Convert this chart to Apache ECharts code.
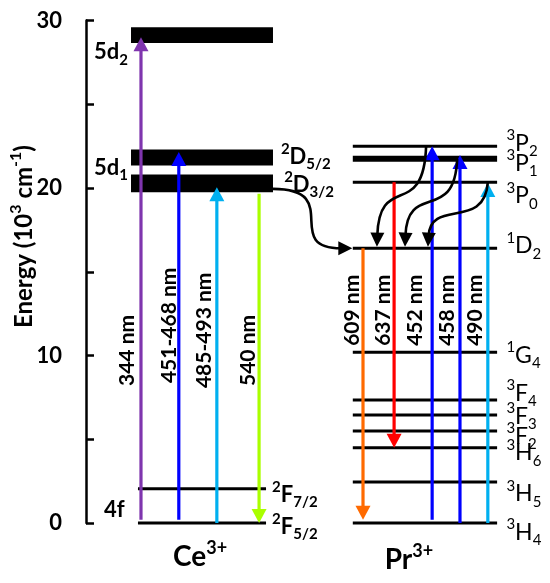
<!DOCTYPE html>
<html>
<head>
<meta charset="utf-8">
<script src="https://cdn.jsdelivr.net/npm/echarts@6/dist/echarts.min.js"></script>
<style>
  html, body { margin: 0; background: #fff; }
  #chart { width: 550px; height: 583px; }
</style>
</head>
<body>
<div id="chart"></div>
<script>
// energies in 10^3 cm^-1
const yTicks = [0, 10, 20, 30];

const ceBandNames = ['5d2', '2D5/2', '2D3/2'];
const ceBandLow = [28.65, 21.35, 19.75];
const ceBandHigh = [29.6, 22.3, 20.8];

const ceLevelNames = ['2F5/2', '2F7/2'];
const ceLevelEnergy = [0, 2.05];

const prLevelNames = ['3H4', '3H5', '3H6', '3F2', '3F3', '3F4', '1G4', '1D2', '3P0', '3P1', '3P2'];
const prLevelEnergy = [0, 2.45, 4.5, 5.5, 6.45, 7.35, 10.2, 16.4, 20.35, 21.75, 22.5];

const ceLines = ['344 nm', '451-468 nm', '485-493 nm', '540 nm'];
const ceFrom = [0.2, 0.2, 0, 19.65];
const ceTo = [29.0, 22.15, 20.05, 0];

const prLines = ['609 nm', '637 nm', '452 nm', '458 nm', '490 nm'];
const prFrom = [16.4, 20.35, 0.2, 0, 0];
const prTo = [0.2, 4.5, 22.5, 21.97, 20.3];

// non-radiative relaxation 3P2, 3P1, 3P0 -> 1D2
const relaxFrom = [22.5, 21.75, 20.35];
const relaxTo = [16.5, 16.5, 16.5];
// energy transfer Ce 2D3/2 -> Pr 1D2
const transferFrom = [19.95];
const transferTo = [16.4];

// layout (x axis runs 0..100 across the plot)
const ceSpan = [9.7, 40.3];
const ceLineSpan = [11.2, 38.8];
const prSpan = [57.5, 88.6];
const ceArrowX = [11.85, 20, 28.2, 37.3];
const prArrowX = [59.7, 66.4, 74.6, 80.6, 86.6];
const relaxStartX = [73.3, 80.0, 86.6];
const relaxEndX = [62.7, 68.75, 73.7];
const transferX = [40.3, 57.4];

const ceColors = ['#7F35AE', '#0000FF', '#00B0F0', '#AAFF00'];
const prColors = ['#FF6A00', '#FF0000', '#0000FF', '#0000FF', '#00B0F0'];

const FONT = 'Lato, "Liberation Sans", sans-serif';

function richStyle(size, weight, small) {
  small = small || Math.round(size * 0.66);
  const base = { fontFamily: FONT, fontWeight: weight, fill: '#000' };
  return {
    m: Object.assign({ fontSize: size, lineHeight: size + 8 }, base),
    sup: Object.assign({ fontSize: small, lineHeight: small + 1, verticalAlign: 'top' }, base),
    sub: Object.assign({ fontSize: small, lineHeight: small + 1, verticalAlign: 'bottom' }, base)
  };
}

function termText(name) {
  const m = name.match(/^(\d)([A-Z])(.*)$/);
  if (m) return '{sup|' + m[1] + '}{m|' + m[2] + '}{sub|' + m[3] + '}';
  const d = name.match(/^(\d[a-z])(\d*)$/);
  if (d) return '{m|' + d[1] + '}' + (d[2] ? '{sub|' + d[2] + '}' : '');
  return '{m|' + name + '}';
}

// label placement
const prLabelX = 90.6;
const prLabelY = [-0.57, 1.73, 4.18, 5.16, 6.36, 7.73, 10.0, 16.54, 19.52, 21.46, 22.66];
const ceLabelX = [42, 42.7];
const ceBandLabelY = [21.85, 20.18];
const ceLevelLabelX = 40.1;
const ceLevelLabelY = [-0.24, 1.67];
const ceLineLabelX = [8.8, 17.9, 25.4, 34.9];
const ceLineLabelY = [10.3, 11.8, 11.5, 10.3];
const prLineLabelX = [57.3, 64.1, 71, 77.9, 83.9];
const prLineLabelY = 12.7;

const labels = [];
prLevelNames.forEach((n, i) => labels.push({ x: prLabelX, y: prLabelY[i], text: termText(n), align: 'left', rich: richStyle(23, 'normal', 15) }));
labels.push({ x: 1.7, y: 28.1, text: termText('5d2'), align: 'left', rich: richStyle(22, 'bold', 15) });
labels.push({ x: 1.7, y: 21.2, text: termText('5d1'), align: 'left', rich: richStyle(22, 'bold', 15) });
labels.push({ x: 3.9, y: 0.78, text: termText('4f'), align: 'left', rich: richStyle(22, 'bold', 15) });
[1, 2].forEach((b, i) => labels.push({ x: ceLabelX[i], y: ceBandLabelY[i], text: termText(ceBandNames[b]), align: 'left', rich: richStyle(22, 'bold', 15) }));
ceLevelNames.forEach((n, i) => labels.push({ x: ceLevelLabelX, y: ceLevelLabelY[i], text: termText(n), align: 'left', rich: richStyle(22, 'bold', 15) }));
ceLines.forEach((n, i) => labels.push({ x: ceLineLabelX[i], y: ceLineLabelY[i], text: '{m|' + n + '}', align: 'center', rotate: true, rich: richStyle(21, 'bold') }));
prLines.forEach((n, i) => labels.push({ x: prLineLabelX[i], y: prLineLabelY, text: '{m|' + n + '}', align: 'center', rotate: true, rich: richStyle(21, 'bold') }));
labels.push({ x: 24.6, y: -2.03, text: '{m|Ce}{sup|3+}', align: 'center', rich: richStyle(28, 'bold', 18) });
labels.push({ x: 69.6, y: -2.2, text: '{m|Pr}{sup|3+}', align: 'center', rich: richStyle(28, 'bold', 18) });
labels.push({ x: -13.4, y: 17.1, text: '{m|Energy (10}{sup|3}{m| cm}{sup|-1}{m|)}', align: 'center', rotate: true, rich: richStyle(24, 'bold', 16) });

// marks
const bandData = ceBandLow.map((lo, i) => [ceSpan[0], ceSpan[1], lo, ceBandHigh[i]]);
const levelData = [];
ceLevelEnergy.forEach(e => levelData.push([ceLineSpan[0], ceLineSpan[1], e, 3]));
prLevelEnergy.forEach((e, i) => levelData.push([prSpan[0], prSpan[1], e, prLevelNames[i] === '3P1' ? 6 : 3]));

const arrowData = [];
const arrowColors = [];
ceLines.forEach((n, i) => { arrowData.push([ceArrowX[i], ceFrom[i], ceArrowX[i], ceTo[i]]); arrowColors.push(ceColors[i]); });
prLines.forEach((n, i) => { arrowData.push([prArrowX[i], prFrom[i], prArrowX[i], prTo[i]]); arrowColors.push(prColors[i]); });

const curveData = [];
relaxFrom.forEach((e, i) => curveData.push([relaxStartX[i], e, relaxEndX[i], relaxTo[i], 0]));
transferFrom.forEach((e, i) => curveData.push([transferX[0], e, transferX[1], transferTo[i], 1]));

function arrowHead(tip, ux, uy, len, w, color) {
  const bx = tip[0] - ux * len, by = tip[1] - uy * len;
  return {
    type: 'polygon',
    shape: { points: [[tip[0], tip[1]], [bx - uy * w / 2, by + ux * w / 2], [bx + uy * w / 2, by - ux * w / 2]] },
    style: { fill: color }
  };
}

const chart = echarts.init(document.getElementById('chart'));
chart.setOption({
  animation: false,
  backgroundColor: '#fff',
  grid: { left: 86, right: 0, top: 20.5, bottom: 60 },
  xAxis: { type: 'value', min: 0, max: 100, show: false },
  yAxis: {
    type: 'value', min: 0, max: 30, interval: 5,
    axisLine: { show: true, lineStyle: { color: '#000', width: 2.5 } },
    axisTick: { show: true, inside: true, length: 8, lineStyle: { color: '#000', width: 2.5 } },
    splitLine: { show: false },
    axisLabel: {
      formatter: v => (yTicks.includes(v) ? String(v) : ''),
      fontSize: 22, fontWeight: 'bold', color: '#000', margin: 24, fontFamily: FONT
    }
  },
  series: [
    {
      type: 'custom', name: 'bands', data: bandData,
      renderItem: (params, api) => {
        const p1 = api.coord([api.value(0), api.value(3)]);
        const p2 = api.coord([api.value(1), api.value(2)]);
        return { type: 'rect', shape: { x: p1[0], y: p1[1], width: p2[0] - p1[0], height: p2[1] - p1[1] }, style: { fill: '#000' } };
      }
    },
    {
      type: 'custom', name: 'levels', data: levelData,
      renderItem: (params, api) => {
        const p1 = api.coord([api.value(0), api.value(2)]);
        const p2 = api.coord([api.value(1), api.value(2)]);
        return { type: 'line', shape: { x1: p1[0], y1: p1[1], x2: p2[0], y2: p2[1] }, style: { stroke: '#000', lineWidth: api.value(3) } };
      }
    },
    {
      type: 'custom', name: 'transitions', data: arrowData,
      renderItem: (params, api) => {
        const color = arrowColors[params.dataIndex];
        const p1 = api.coord([api.value(0), api.value(1)]);
        const p2 = api.coord([api.value(2), api.value(3)]);
        const dx = p2[0] - p1[0], dy = p2[1] - p1[1];
        const len = Math.hypot(dx, dy);
        const ux = dx / len, uy = dy / len;
        const hl = 14;
        return {
          type: 'group',
          children: [
            { type: 'line', shape: { x1: p1[0], y1: p1[1], x2: p2[0] - ux * hl * 0.8, y2: p2[1] - uy * hl * 0.8 }, style: { stroke: color, lineWidth: 3.2 } },
            arrowHead(p2, ux, uy, hl, 15, color)
          ]
        };
      }
    },
    {
      type: 'custom', name: 'relaxation', data: curveData,
      renderItem: (params, api) => {
        const p1 = api.coord([api.value(0), api.value(1)]);
        const p2 = api.coord([api.value(2), api.value(3)]);
        const horizontal = api.value(4) === 1;
        const dx = p2[0] - p1[0], dy = p2[1] - p1[1];
        let c1, c2;
        if (horizontal) {
          c1 = [p1[0] + 0.9 * dx, p1[1]];
          c2 = [p2[0] - 0.9 * dx, p2[1]];
        } else {
          c1 = [p1[0] + 0.05 * dx, p1[1] + 0.75 * dy];
          c2 = [p2[0] - 0.05 * dx, p2[1] - 0.75 * dy];
        }
        const ex = p2[0] - c2[0], ey = p2[1] - c2[1];
        const el = Math.hypot(ex, ey);
        const ux = ex / el, uy = ey / el;
        const hl = 14;
        const end = [p2[0] - ux * hl * 0.8, p2[1] - uy * hl * 0.8];
        return {
          type: 'group',
          children: [
            { type: 'bezierCurve', shape: { x1: p1[0], y1: p1[1], cpx1: c1[0], cpy1: c1[1], cpx2: c2[0], cpy2: c2[1], x2: end[0], y2: end[1] }, style: { stroke: '#000', lineWidth: 2.6, fill: null } },
            arrowHead(p2, ux, uy, hl, 14, '#000')
          ]
        };
      }
    },
    {
      type: 'custom', name: 'labels', data: labels.map(l => [l.x, l.y]),
      renderItem: (params, api) => {
        const l = labels[params.dataIndex];
        const p = api.coord([api.value(0), api.value(1)]);
        return {
          type: 'text', x: p[0], y: p[1], rotation: l.rotate ? Math.PI / 2 : 0,
          style: { text: l.text, rich: l.rich, align: l.align, verticalAlign: 'middle', fill: '#000' }
        };
      }
    }
  ]
});
</script>
</body>
</html>
